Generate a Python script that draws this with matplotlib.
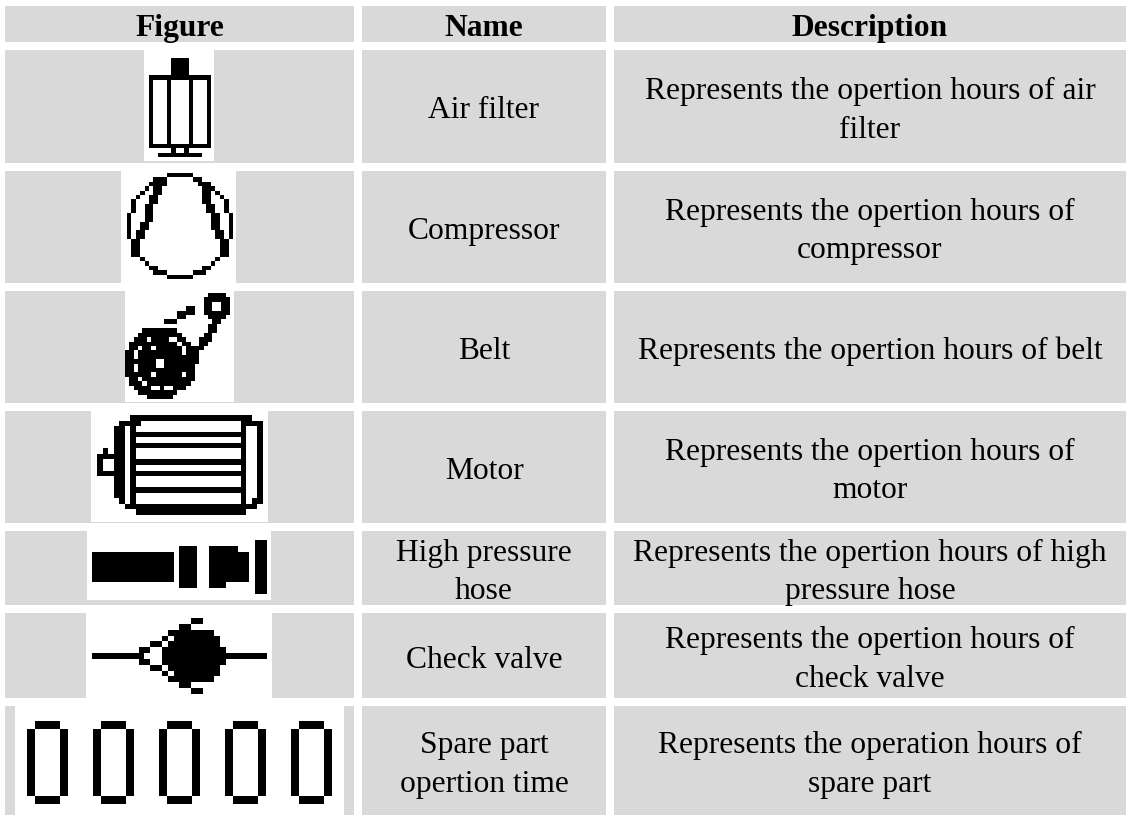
import numpy as np
import matplotlib
matplotlib.use('Agg')
import matplotlib.pyplot as plt
from matplotlib.patches import Rectangle

headers = ['Figure', 'Name', 'Description']
names = ['Air filter', 'Compressor', 'Belt', 'Motor', 'High pressure\nhose',
         'Check valve', 'Spare part\nopertion time']
descriptions = ['Represents the opertion hours of air\nfilter',
                'Represents the opertion hours of\ncompressor',
                'Represents the opertion hours of belt',
                'Represents the opertion hours of\nmotor',
                'Represents the opertion hours of high\npressure hose',
                'Represents the opertion hours of\ncheck valve',
                'Represents the operation hours of\nspare part']

# icon bitmaps, X = black pixel
air_filter = [
    '.....XXXX.....',
    '.....XXXX.....',
    '.....XXXX.....',
    '.....XXXX.....',
    'XXXXXXXXXXXXXX',
] + ['X...X....X...X'] * 15 + [
    'XXXXXXXXXXXXXX',
    '.....X..X.....',
    '..XXXXXXXXXX..',
]

compressor = [
    '.........XXXXXX.........',
    '......XXX......XX.......',
    '.....XXXX.......XXX.....',
    '....X.XX.........XXX....',
    '...X..XX.........XX.X...',
    '..X..XX..........XX..X..',
    '.X...XX..........XX...X.',
    '.X..XX............XX..X.',
    '.X..XX............XX..X.',
    'X...XX.............XX..X',
    'X...XX.............XX..X',
    'X..XX..............XX..X',
    'X..XX..............XX..X',
    'X.XX................XX.X',
    'X.XX................XX.X',
    '.XX..................XX.',
    '.XX..................XX.',
    '.XX..................XX.',
    '.XX..................XX.',
    '...X................X...',
    '....X..............X....',
    '.....XX..........XX.....',
    '......XXX......XXX......',
    '.........XXXXXX.........',
]

belt = [
    '...................XXXX.',
    '..................XXXXXX',
    '..................XX..XX',
    '..............XX..XX..XX',
    '............XXXX..XXXXXX',
    '............XX.....XXXX.',
    '.........XXX........XX..',
    '...................XX...',
    '....XXXXXXXX.......XX...',
    '...XXXXXXXXXX.....XX....',
    '..XXX.XXXX..XX...XXX....',
    '.XXXXXXXXXXX.XX..XX.....',
    '.XX.XX.XXXXXX.XXXX......',
    'XX.XXXXXXXXXX.XXX.......',
    'XX.XXXXXXXXXXXXXX.......',
    'XXXXXXX..XXXXXXXX.......',
    'XX.XXXX..XXXXXXX........',
    'XX.XXXXXXXXXXXXX........',
    'XXXXXX.XXXXXX.XX........',
    '.XX.XXXXXXXXXXXX........',
    '.XXX.XXXXXXXXXX.........',
    '..XXXX..X..XXX..........',
    '...XXXXXXXXX............',
    '.....XXXXXX.............',
]

motor = [
    '......XXXXXXXXXXXXXXXXXXXXXX..',
    '....XXXX..................XXXX',
    '...XX.X...................X..X',
    '...XX.XXXXXXXXXXXXXXXXXXXXX..X',
    '...XX.X...................X..X',
    '...XX.XXXXXXXXXXXXXXXXXXXXX..X',
    '.X.XX.X...................X..X',
    'XXXXX.X...................X..X',
    'X..XX.XXXXXXXXXXXXXXXXXXXXX..X',
    'X..XX.X...................X..X',
    'XXXXX.XXXXXXXXXXXXXXXXXXXXX..X',
    '...XX.X...................X..X',
    '...XX.X...................X..X',
    '...XX.XXXXXXXXXXXXXXXXXXXXX..X',
    '...XX.X...................X..X',
    '....X.X...................X.XX',
    '.....XXXXXXXXXXXXXXXXXXXXXXXX.',
    '.......XXXXXXXXXXXXXXXXXXXX...',
]

hose = [
    '............................XX',
    '...............XXX..XXXXX...XX',
    'XXXXXXXXXXXXXX.XXX..XXXXXXX.XX',
    'XXXXXXXXXXXXXX.XXX..XXXXXXX.XX',
    'XXXXXXXXXXXXXX.XXX..XXXXXXX.XX',
    'XXXXXXXXXXXXXX.XXX..XXXXXXX.XX',
    'XXXXXXXXXXXXXX.XXX..XXXXXXX.XX',
    '...............XXX..XXX.....XX',
    '............................XX',
]

valve = [
    '.................XX...........',
    '...............XX.............',
    '.............XXXXXXXX.........',
    '............X.XXXXXXXX........',
    '..........XX.XXXXXXXXX........',
    '........XX..XXXXXXXXXXX.......',
    'XXXXXXXXX...XXXXXXXXXXXXXXXXXX',
    '........XX..XXXXXXXXXXX.......',
    '..........XX.XXXXXXXXX........',
    '............X.XXXXXXXX........',
    '.............XXXXXXXX.........',
    '...............XX.............',
    '.................XX...........',
]

zero = ['.XXX.'] + ['X...X'] * 8 + ['.XXX.']
digits = [(r + '...') * 4 + r for r in zero]

icons = [air_filter, compressor, belt, motor, hose, valve, digits]

# layout in pixels
W, H = 1126, 815
col_x = [(5, 354), (362, 606), (614, 1126)]
row_y = [(6, 42), (50, 163), (171, 283), (291, 403), (411, 523), (531, 605), (613, 698), (706, 815)]
white_boxes = [(144, 214, 50, 161), (121, 236, 171, 283), (125, 234, 291, 402), (91, 268, 411, 522),
               (87, 271, 531, 600), (86, 272, 613, 698), (15, 344, 706, 815)]
icon_boxes = [(149.3, 211, 58.7, 157.3), (127.3, 233, 173.3, 278.7), (125, 230, 293.3, 398.7),
              (97.3, 262.7, 415.3, 515.3), (92.3, 266.7, 540.3, 594), (91.7, 266.7, 617.7, 693.7),
              (27, 331.7, 721.3, 803.7)]

plt.rcParams['font.family'] = ['Liberation Serif']
fig = plt.figure(figsize=(W / 100, H / 100), dpi=100)
ax = fig.add_axes([0, 0, 1, 1])

for x0, x1 in col_x:
    for y0, y1 in row_y:
        ax.add_patch(Rectangle((x0, y0), x1 - x0, y1 - y0, fc='#d9d9d9', ec='none', zorder=1))

for (x0, x1, y0, y1) in white_boxes:
    ax.add_patch(Rectangle((x0, y0), x1 - x0, y1 - y0, fc='white', ec='none', zorder=2))

for icon, (x0, x1, y0, y1) in zip(icons, icon_boxes):
    width = max(len(r) for r in icon)
    img = np.array([[0.0 if c == 'X' else 1.0 for c in r.ljust(width, '.')] for r in icon])
    ax.imshow(img, cmap='gray', vmin=0, vmax=1, extent=(x0, x1, y1, y0), aspect='auto',
              interpolation='nearest', zorder=3)

ax.set_xlim(0, W)
ax.set_ylim(H, 0)
ax.axis('off')

fs = 22.7
line_gap = 38.5


def cell_text(x, cy, label):
    lines = label.split('\n')
    first = cy + 12 - line_gap * (len(lines) - 1) / 2
    for i, line in enumerate(lines):
        ax.text(x, first + i * line_gap, line, ha='center', va='baseline', fontsize=fs, color='black')


for (x0, x1), h in zip(col_x, headers):
    ax.text((x0 + x1) / 2, 36, h, ha='center', va='baseline', fontsize=fs, fontweight='bold', color='black')
for (y0, y1), n, d in zip(row_y[1:], names, descriptions):
    cell_text(484, (y0 + y1) / 2, n)
    cell_text(870, (y0 + y1) / 2, d)

fig.savefig('out.png', dpi=100)
